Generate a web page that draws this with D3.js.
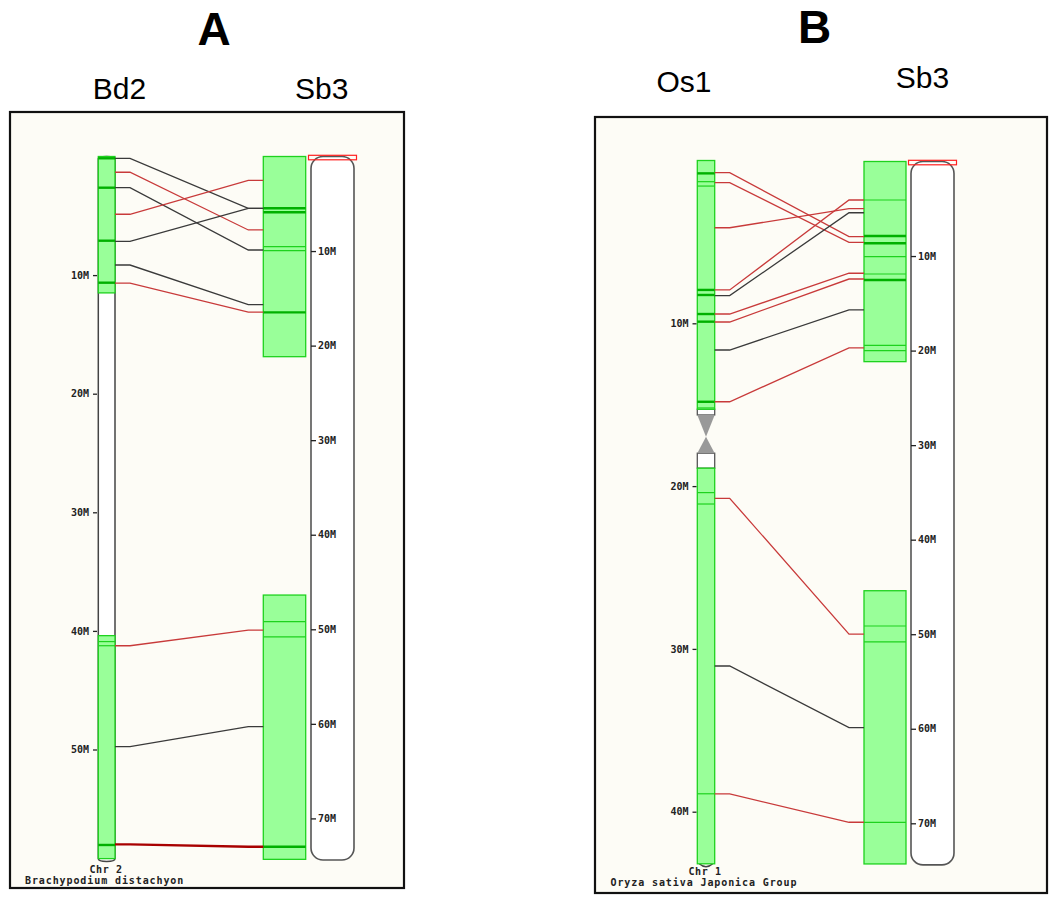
<!DOCTYPE html>
<html><head><meta charset="utf-8">
<script src="https://cdn.jsdelivr.net/npm/d3@7"></script>
<style>
body{margin:0;background:#fff;}
.small{font-family:"DejaVu Sans Mono",monospace;font-size:10px;font-weight:bold;fill:#222;}
.tick text{font-family:"DejaVu Sans Mono",monospace;font-size:10px;font-weight:bold;fill:#222;}
</style></head><body>
<svg id="c" width="1051" height="898"></svg>
<script>
// ---------- DATA (Mb) ----------
const bd2Length = 59.2, sb3Length = 74.4, os1Length = 43.2;
const bd2Ticks = [10,20,30,40,50];
const os1Ticks = [10,20,30,40];
const sb3Ticks = [10,20,30,40,50,60,70];
const tickFormat = d => d + "M";

// Panel A
const bd2Blocks = [[0,11.5],[40.4,59.2]];
const bd2Bands = [0.15,2.63,7.1,10.64,40.9,41.25,58.05];
const bd2BandThick = [1,1,1,1,0,0,1];
const sb3ABlocks = [[0,21.17],[46.38,74.33]];
const sb3ABands = [5.48,5.9,9.54,9.96,16.48,49.2,50.8,73.0];
const sb3ABandThick = [1,1,0,0,1,0,0,1];
const linksA_bd2 = [0.15,1.33,2.63,4.87,7.15,9.15,10.67,41.25,49.76,58.0];
const linksA_sb3 = [5.48,7.77,9.89,2.52,5.48,15.67,16.45,50.08,60.3,73.0];
const linksA_type = ["k","r","k","r","k","k","r","r","k","d"];

// Panel B
const os1Blocks = [[0,15.28],[18.9,43.2]];
const os1CenWhite = [[15.28,15.63],[17.98,18.9]];
const os1CenTri = [[15.63,16.97],[16.97,17.98]];
const os1Bands = [0.79,1.3,1.57,7.95,8.26,9.43,9.9,14.82,15.2,20.4,21.1,38.9];
const os1BandThick = [1,0,0,1,1,1,1,1,0,0,0,0];
const sb3BBlocks = [[0,21.17],[45.4,74.3]];
const sb3BBands = [4.07,7.88,8.65,10.07,11.9,12.53,19.44,20.0,49.13,50.8,69.9];
const sb3BBandThick = [0,1,1,0,0,1,0,0,0,0,0];
const linksB_os1 = [0.75,1.36,4.13,7.95,8.30,9.43,9.92,11.64,14.82,20.75,31.05,38.91];
const linksB_sb3 = [7.95,8.55,4.99,4.07,5.42,11.82,12.43,15.7,19.72,50.0,59.88,69.89];
const linksB_type = ["r","r","r","r","k","r","r","k","r","r","k","r"];

// ---------- DRAW ----------
const svg = d3.select("#c");
const linkColor = {k:"#3a3a3a", r:"#c83a3a", d:"#a80000"};
const linkWidth = {k:1.3, r:1.3, d:2.4};
const GREEN_FILL = "#99ff99", GREEN_STROKE = "#1ed21e", BAND_THIN = "#1ed21e", BAND_THICK = "#00b000";

function frame(x0,y0,x1,y1){
  svg.append("rect").attr("x",x0).attr("y",y0).attr("width",x1-x0).attr("height",y1-y0)
    .attr("fill","#fdfcf6").attr("stroke","#111").attr("stroke-width",2.2);
}
function title(x,y,t,size,bold){
  svg.append("text").attr("x",x).attr("y",y).attr("text-anchor","middle")
    .attr("font-family","Liberation Sans, Arial, sans-serif").attr("font-size",size)
    .attr("font-weight",bold?"bold":"normal").attr("fill","#000").text(t);
}
function greenBlocks(g,x0,x1,y,blocks,bands,thick){
  blocks.forEach(b=>{
    g.append("rect").attr("x",x0).attr("y",y(b[0])).attr("width",x1-x0).attr("height",y(b[1])-y(b[0]))
      .attr("fill",GREEN_FILL).attr("stroke",GREEN_STROKE).attr("stroke-width",1.3);
  });
  bands.forEach((p,i)=>{
    g.append("line").attr("x1",x0).attr("x2",x1).attr("y1",y(p)).attr("y2",y(p))
      .attr("stroke",thick[i]?BAND_THICK:BAND_THIN).attr("stroke-width",thick[i]?2.4:1.2);
  });
}
function slimChrom(g,x0,x1,y,len){
  // white body with grey outline and small rounded end
  g.append("path").attr("d",`M${x0},${y(0)+2} L${x0},${y(len)} Q${x0},${y(len)+3} ${(x0+x1)/2},${y(len)+3} Q${x1},${y(len)+3} ${x1},${y(len)} L${x1},${y(0)+2} Q${x1},${y(0)} ${(x0+x1)/2},${y(0)} Q${x0},${y(0)} ${x0},${y(0)+2}Z`)
    .attr("fill","#fff").attr("stroke","#444").attr("stroke-width",1.5);
}
function sb3Chrom(g,x0,x1,y){
  g.append("rect").attr("x",x0).attr("y",y(0)).attr("width",x1-x0).attr("height",y(sb3Length)-y(0))
    .attr("rx",12).attr("ry",12).attr("fill","#fff").attr("stroke","#555").attr("stroke-width",1.6);
  g.append("rect").attr("x",x0-2.5).attr("y",y(0)-1.2).attr("width",x1-x0+5).attr("height",4.5)
    .attr("fill","none").attr("stroke","#ff2020").attr("stroke-width",1.2);
  const ax = d3.axisRight(y).tickValues(sb3Ticks).tickFormat(tickFormat).tickSize(5).tickPadding(2);
  const a = g.append("g").attr("transform",`translate(${x0},0)`).call(ax);
  a.select(".domain").remove();
  a.selectAll(".tick line").attr("stroke","#222").attr("stroke-width",1.3);
}
function slimAxis(g,x,y,ticks){
  const ax = d3.axisLeft(y).tickValues(ticks).tickFormat(tickFormat).tickSize(4).tickPadding(4);
  const a = g.append("g").attr("transform",`translate(${x},0)`).call(ax);
  a.select(".domain").remove();
  a.selectAll(".tick line").attr("stroke","#222").attr("stroke-width",1.3);
}
function links(g,xL,xR,yL,yR,aa,bb,tt){
  const line = d3.line();
  aa.forEach((a,i)=>{
    const y1=yL(a), y2=yR(bb[i]);
    g.append("path").attr("d",line([[xL,y1],[xL+15,y1],[xR-15,y2],[xR,y2]]))
      .attr("fill","none").attr("stroke",linkColor[tt[i]]).attr("stroke-width",linkWidth[tt[i]]);
  });
}

// ===== Panel A =====
frame(10,112,404,888);
title(214,45,"A",46,true);
title(119.5,99,"Bd2",30,false);
title(321.7,99,"Sb3",30,false);
const gA = svg.append("g");
const yBd2 = d3.scaleLinear().domain([0,50]).range([156.5,749.5]);
const ySb3A = d3.scaleLinear().domain([0,70]).range([156.5,818.4]);
const bd2X0=98.3, bd2X1=115, boxAX0=263.3, boxAX1=305.7, sbAX0=311, sbAX1=354;
slimChrom(gA,bd2X0,bd2X1,yBd2,bd2Length);
greenBlocks(gA,bd2X0,bd2X1,yBd2,bd2Blocks,bd2Bands,bd2BandThick);
slimAxis(gA,97,yBd2,bd2Ticks);
greenBlocks(gA,boxAX0,boxAX1,ySb3A,sb3ABlocks,sb3ABands,sb3ABandThick);
sb3Chrom(gA,sbAX0,sbAX1,ySb3A);
links(gA,bd2X1,boxAX0,yBd2,ySb3A,linksA_bd2,linksA_sb3,linksA_type);
gA.append("text").attr("class","small").attr("x",106).attr("y",872.5).attr("text-anchor","middle").attr("letter-spacing","0.6").text("Chr 2");
gA.append("text").attr("class","small").attr("x",25).attr("y",883.5).attr("letter-spacing","0.9").text("Brachypodium distachyon");

// ===== Panel B =====
frame(595,117,1047,893);
title(814.7,43.3,"B",46,true);
title(684,91.5,"Os1",30,false);
title(922.5,88.3,"Sb3",30,false);
const gB = svg.append("g");
const yOs1 = d3.scaleLinear().domain([0,40]).range([160.5,811.7]);
const ySb3B = d3.scaleLinear().domain([0,70]).range([161.5,823.3]);
const osX0=697.3, osX1=714.7, boxBX0=864, boxBX1=906, sbBX0=911, sbBX1=954;
// Os1 outline end
gB.append("path").attr("d",`M${osX0+2},${yOs1(os1Length)} Q${(osX0+osX1)/2},${yOs1(os1Length)+6} ${osX1-2},${yOs1(os1Length)}`)
  .attr("fill","none").attr("stroke","#444").attr("stroke-width",1.5);
os1CenWhite.forEach(w=>{
  gB.append("rect").attr("x",osX0).attr("y",yOs1(w[0])).attr("width",osX1-osX0).attr("height",yOs1(w[1])-yOs1(w[0]))
    .attr("fill","#fff").attr("stroke","#555").attr("stroke-width",1.3);
});
// centromere triangles
gB.append("path").attr("d",`M${osX0},${yOs1(os1CenTri[0][0])} L${osX1},${yOs1(os1CenTri[0][0])} L${(osX0+osX1)/2},${yOs1(os1CenTri[0][1])}Z`).attr("fill","#999");
gB.append("path").attr("d",`M${osX0},${yOs1(os1CenTri[1][1])} L${osX1},${yOs1(os1CenTri[1][1])} L${(osX0+osX1)/2},${yOs1(os1CenTri[1][0])}Z`).attr("fill","#999");
greenBlocks(gB,osX0,osX1,yOs1,os1Blocks,os1Bands,os1BandThick);
slimAxis(gB,696.5,yOs1,os1Ticks);
greenBlocks(gB,boxBX0,boxBX1,ySb3B,sb3BBlocks,sb3BBands,sb3BBandThick);
sb3Chrom(gB,sbBX0,sbBX1,ySb3B);
links(gB,osX1,boxBX0,yOs1,ySb3B,linksB_os1,linksB_sb3,linksB_type);
gB.append("text").attr("class","small").attr("x",705).attr("y",875).attr("text-anchor","middle").attr("letter-spacing","0.6").text("Chr 1");
gB.append("text").attr("class","small").attr("x",610.5).attr("y",886).attr("letter-spacing","0.9").text("Oryza sativa Japonica Group");
</script>
</body></html>
